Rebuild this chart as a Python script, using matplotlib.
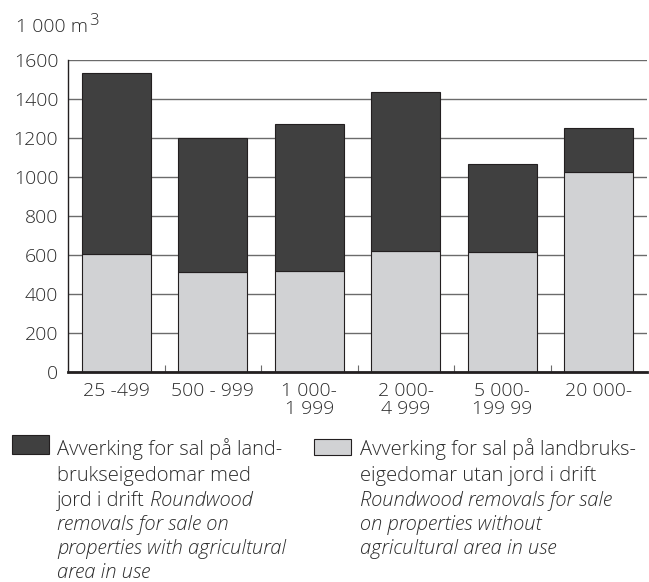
import matplotlib
matplotlib.use("Agg")
import matplotlib.pyplot as plt
import matplotlib.patches as mpatches
import numpy as np

# ── Data ──────────────────────────────────────────────────────────────────────
categories = ["25 -499", "500 - 999", "1 000-\n1 999", "2 000-\n4 999",
              "5 000-\n199 99", "20 000-"]
without_agri = [605, 512, 520, 620, 614, 1026]     # light grey, bottom
total_removals = [1535, 1200, 1272, 1435, 1068, 1251]
with_agri = [t - w for t, w in zip(total_removals, without_agri)]  # dark, on top

y_ticks = [0, 200, 400, 600, 800, 1000, 1200, 1400, 1600]

# ── Style ─────────────────────────────────────────────────────────────────────
plt.rcParams["font.family"] = ["Open Sans", "DejaVu Sans"]
plt.rcParams["font.weight"] = "light"
text_col = "#2b2b2b"
dark_col = "#404040"
light_col = "#d1d2d4"
grid_col = "#6b6b6b"
fs = 14
fs_leg = 14.5

W, H = 649, 582
fig = plt.figure(figsize=(W / 100, H / 100), dpi=100)


def fx(px):
    return px / W


def fy(py):
    return 1 - py / H


ax = fig.add_axes([fx(68), fy(372), fx(647) - fx(68), fy(60) - fy(372)])

x = np.arange(len(categories))
bar_w = 0.72
ax.bar(x, without_agri, bar_w, color=light_col, edgecolor="#231f20",
       linewidth=0.8, zorder=3)
ax.bar(x, with_agri, bar_w, bottom=without_agri, color=dark_col,
       edgecolor="#231f20", linewidth=0.8, zorder=3)

ax.set_xlim(-0.5, len(categories) - 0.5)
ax.set_ylim(0, 1600)
ax.set_yticks(y_ticks)
ax.set_xticks(x)
ax.set_xticklabels(categories, fontsize=fs, color=text_col, linespacing=1.0)
ax.set_xticks(x[:-1] + 0.5, minor=True)
ax.tick_params(axis="x", which="major", length=0, pad=7)
ax.tick_params(axis="x", which="minor", direction="in", length=5,
               width=0.8, color=grid_col)
ax.tick_params(axis="y", length=0, pad=7, labelsize=fs, labelcolor=text_col)

ax.yaxis.grid(True, color=grid_col, linewidth=1)
ax.set_axisbelow(True)

for side in ["top", "right"]:
    ax.spines[side].set_visible(False)
ax.spines["left"].set_color("#231f20")
ax.spines["left"].set_linewidth(1)
ax.spines["bottom"].set_color("#231f20")
ax.spines["bottom"].set_linewidth(2)
ax.spines["bottom"].set_zorder(4)

# ── Unit label ────────────────────────────────────────────────────────────────
renderer = fig.canvas.get_renderer()
unit = fig.text(fx(16), fy(32), "1 000 m", fontsize=fs, color=text_col,
                va="baseline")
bb = unit.get_window_extent(renderer)
fig.text(bb.x1 / W + fx(1), fy(25), "3", fontsize=12, color=text_col,
         va="baseline")

# ── Legend (drawn by hand to mix upright and italic lines) ────────────────────
fig.patches.append(mpatches.Rectangle((fx(12), fy(454)), fx(49) - fx(12),
                                      fy(435) - fy(454),
                                      transform=fig.transFigure,
                                      facecolor=dark_col, edgecolor="#231f20",
                                      linewidth=0.8))
fig.patches.append(mpatches.Rectangle((fx(314), fy(455)), fx(351) - fx(314),
                                      fy(439) - fy(455),
                                      transform=fig.transFigure,
                                      facecolor=light_col, edgecolor="#231f20",
                                      linewidth=0.8))

baselines = [455, 481, 506, 530, 554, 578]
left_lines = [
    [("Avverking for sal på land-", "normal")],
    [("brukseigedomar med", "normal")],
    [("jord i drift", "normal"), ("Roundwood", "italic")],
    [("removals for sale on", "italic")],
    [("properties with agricultural", "italic")],
    [("area in use", "italic")],
]
right_lines = [
    [("Avverking for sal på landbruks-", "normal")],
    [("eigedomar utan jord i drift", "normal")],
    [("Roundwood removals for sale", "italic")],
    [("on properties without", "italic")],
    [("agricultural area in use", "italic")],
]


def draw_block(x0, lines):
    for base, parts in zip(baselines, lines):
        xpos = x0
        for txt, style in parts:
            t = fig.text(fx(xpos), fy(base), txt, fontsize=fs_leg, style=style,
                         color=text_col, va="baseline")
            xpos = t.get_window_extent(renderer).x1 + 5


draw_block(57, left_lines)
draw_block(360, right_lines)

fig.savefig("out.png", dpi=100)
